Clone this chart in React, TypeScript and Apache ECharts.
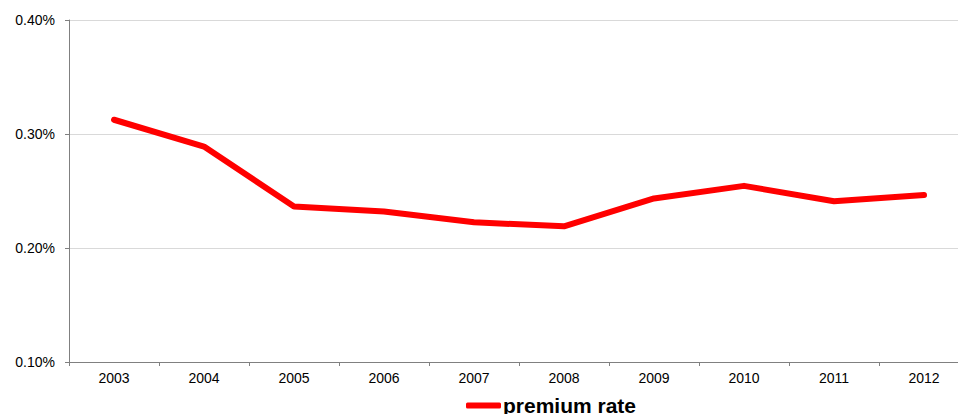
import React, { useEffect, useRef } from "react";
import * as echarts from "echarts";

const years = ["2003", "2004", "2005", "2006", "2007", "2008", "2009", "2010", "2011", "2012"];
const premiumRate = [0.3125, 0.289, 0.2365, 0.232, 0.2225, 0.219, 0.2435, 0.2545, 0.241, 0.2465];
const seriesName = "premium rate";

export default function App() {
  const ref = useRef<HTMLDivElement>(null);
  useEffect(() => {
    if (!ref.current) return;
    const chart = echarts.init(ref.current, null, { renderer: "svg" });
    chart.setOption({
      animation: false,
      backgroundColor: "#ffffff",
      textStyle: { fontFamily: "Liberation Sans, Arial, sans-serif" },
      grid: { left: 69, top: 20, width: 900, height: 342, containLabel: false },
      legend: {
        data: [{ name: seriesName, icon: "roundRect" }],
        left: 466,
        top: 395,
        padding: 0,
        itemWidth: 35,
        itemHeight: 6,
        itemGap: 2,
        textStyle: { fontSize: 21, fontWeight: "bold", color: "#000", padding: [0, 0, 0, -3] },
      },
      xAxis: {
        type: "category",
        data: years,
        boundaryGap: true,
        axisLine: { lineStyle: { color: "#808080", width: 1 } },
        axisTick: { show: true, length: 4, lineStyle: { color: "#808080" } },
        axisLabel: { color: "#000", fontSize: 14, margin: 9 },
      },
      yAxis: {
        type: "value",
        min: 0.1,
        max: 0.4,
        interval: 0.1,
        axisLine: { show: true, lineStyle: { color: "#808080", width: 1 } },
        axisTick: { show: true, length: 4, lineStyle: { color: "#808080" } },
        axisLabel: {
          color: "#000",
          fontSize: 14,
          margin: 14,
          formatter: (v: number) => v.toFixed(2) + "%",
        },
        splitLine: { show: true, lineStyle: { color: "#d9d9d9", width: 1 } },
      },
      series: [
        {
          name: seriesName,
          type: "line",
          data: premiumRate,
          showSymbol: false,
          symbol: "none",
          lineStyle: { color: "#ff0000", width: 6, cap: "round", join: "round" },
          itemStyle: { color: "#ff0000" },
        },
      ],
    });
    return () => chart.dispose();
  }, []);
  return (
    <div style={{ position: "fixed", left: 0, top: 0, width: 958, height: 414, overflow: "hidden", background: "#fff" }}>
      <div ref={ref} style={{ width: 980, height: 414 }} />
    </div>
  );
}
